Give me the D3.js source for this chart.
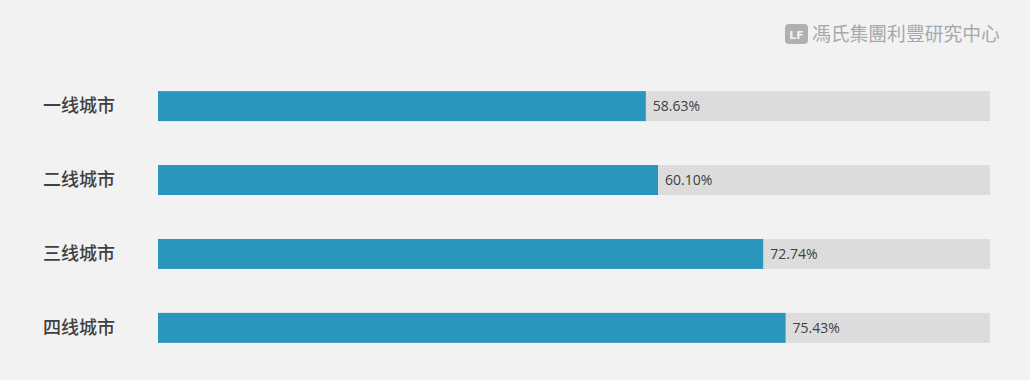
<!DOCTYPE html>
<html><head><meta charset="utf-8">
<script src="https://cdn.jsdelivr.net/npm/d3@7"></script>
<style>
html,body{margin:0;padding:0;background:#f2f2f2;}
svg{display:block;}
</style></head>
<body>
<svg id="c" width="1030" height="380"></svg>
<script>
const categories = ["一线城市","二线城市","三线城市","四线城市"];
const values = [58.63, 60.10, 72.74, 75.43];
const valueLabels = ["58.63%","60.10%","72.74%","75.43%"];
const maxValue = 100;
const watermark = "馮氏集團利豐研究中心";

const svg = d3.select("#c");
const W = 1030, H = 380;
svg.append("rect").attr("width", W).attr("height", H).attr("fill", "#f2f2f2");

const defs = svg.append("defs");
const pat = defs.append("pattern").attr("id","dots").attr("width",4).attr("height",4).attr("patternUnits","userSpaceOnUse");
pat.append("rect").attr("width",4).attr("height",4).attr("fill","#dedede");
pat.append("rect").attr("x",0).attr("y",0).attr("width",1).attr("height",1).attr("fill","#d0d0d0");
pat.append("rect").attr("x",2).attr("y",2).attr("width",1).attr("height",1).attr("fill","#d0d0d0");

const x = d3.scaleLinear().domain([0, maxValue]).range([158, 990]);
const y = d3.scaleBand().domain(categories).range([69, 365]).paddingInner(0.595).paddingOuter(0.3);

const g = svg.append("g");
g.selectAll("rect.bg").data(categories).join("rect").attr("class","bg")
  .attr("x", x(0)).attr("y", d => y(d)).attr("width", x(maxValue) - x(0)).attr("height", y.bandwidth())
  .attr("fill", "url(#dots)");
g.selectAll("rect.bar").data(values).join("rect").attr("class","bar")
  .attr("x", x(0)).attr("y", (d,i) => y(categories[i])).attr("width", d => x(d) - x(0)).attr("height", y.bandwidth())
  .attr("fill", "#2a95bd");
g.selectAll("text.val").data(values).join("text").attr("class","val")
  .attr("x", d => x(d) + 7).attr("y", (d,i) => y(categories[i]) + y.bandwidth()/2)
  .attr("dy", "0.35em").attr("font-family", "'Open Sans', 'Noto Sans', sans-serif").attr("font-size", 14)
  .attr("fill", "#404040").text((d,i) => valueLabels[i]);
g.selectAll("text.cat").data(categories).join("text").attr("class","cat")
  .attr("x", 115).attr("y", d => y(d) + y.bandwidth()/2).attr("dy","0.35em")
  .attr("text-anchor","end").attr("font-family","'Noto Sans CJK SC', sans-serif").attr("font-size",18)
  .attr("font-weight", 500).attr("fill","#404040").text(d => d);

// watermark
const wm = svg.append("g").attr("transform","translate(785,24)");
wm.append("rect").attr("width",23).attr("height",20).attr("rx",4).attr("fill","#b0b0b0");
wm.append("text").attr("x",11.5).attr("y",14.5).attr("text-anchor","middle").attr("font-size",11)
  .attr("font-family","DejaVu Sans").attr("font-weight","bold").attr("fill","#f2f2f2").text("LF");
svg.append("text").attr("x",812).attr("y",34).attr("dy","0.35em").attr("font-family","'Noto Sans CJK TC', sans-serif")
  .attr("font-size",18.8).attr("fill","#a8a8a8").text(watermark);
</script>
</body></html>
